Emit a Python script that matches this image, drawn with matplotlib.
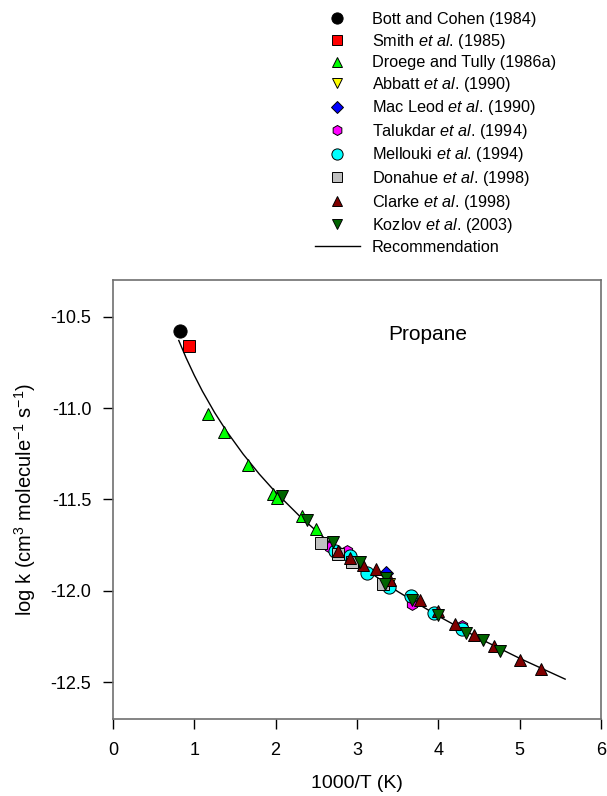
import matplotlib
matplotlib.use("Agg")
import matplotlib.pyplot as plt
from matplotlib.lines import Line2D

plt.rcParams["font.family"] = ["Liberation Sans", "DejaVu Sans"]
plt.rcParams["mathtext.fontset"] = "custom"
plt.rcParams["mathtext.rm"] = "Liberation Sans"
plt.rcParams["mathtext.it"] = "Liberation Sans:italic"

# data (x = 1000/T, y = log k)
bott_x, bott_y = [0.82], [-10.58]
smith_x, smith_y = [0.94], [-10.66]
droege_x = [1.17, 1.37, 1.66, 1.97, 2.02, 2.33, 2.50]
droege_y = [-11.03, -11.13, -11.31, -11.47, -11.49, -11.59, -11.66]
abbatt_x, abbatt_y = [3.39], [-11.96]
macleod_x, macleod_y = [3.36], [-11.90]
taluk_x = [2.67, 2.88, 3.68, 4.29]
taluk_y = [-11.76, -11.78, -12.07, -12.19]
mell_x = [2.73, 2.91, 3.12, 3.40, 3.66, 3.95, 4.29]
mell_y = [-11.78, -11.81, -11.90, -11.98, -12.03, -12.12, -12.21]
donah_x = [2.56, 2.77, 2.94, 3.32]
donah_y = [-11.74, -11.80, -11.84, -11.96]
clarke_x = [2.77, 2.92, 3.08, 3.23, 3.41, 3.78, 4.00, 4.20, 4.44, 4.69, 5.00, 5.26]
clarke_y = [-11.78, -11.82, -11.86, -11.88, -11.94, -12.05, -12.11, -12.18,
            -12.24, -12.30, -12.38, -12.43]
kozlov_x = [2.08, 2.39, 2.70, 3.04, 3.36, 3.35, 3.68, 4.00, 4.34, 4.55, 4.76]
kozlov_y = [-11.48, -11.61, -11.73, -11.84, -11.93, -11.96, -12.05, -12.13,
            -12.23, -12.27, -12.33]

# recommendation curve, points
rec_x = [0.81, 0.9, 1.0, 1.1, 1.25, 1.4, 1.6, 1.8, 2.0, 2.3, 2.6, 3.0, 3.5,
         4.0, 4.5, 5.0, 5.56]
rec_y = [-10.630, -10.725, -10.820, -10.907, -11.024, -11.128, -11.251,
         -11.361, -11.460, -11.593, -11.711, -11.850, -12.003, -12.138,
         -12.259, -12.369, -12.483]

series = [
    (bott_x, bott_y, "o", "#000000", 9.5, "Bott and Cohen (1984)"),
    (smith_x, smith_y, "s", "#ff0000", 8, r"Smith $\it{et\ al}$. (1985)"),
    (droege_x, droege_y, "^", "#00ff00", 9, "Droege and Tully (1986a)"),
    (abbatt_x, abbatt_y, "v", "#ffff00", 9, r"Abbatt $\it{et\ al}$. (1990)"),
    (macleod_x, macleod_y, "D", "#0000ff", 7.5, r"Mac Leod $\it{et\ al}$. (1990)"),
    (taluk_x, taluk_y, "h", "#ff00ff", 8.5, r"Talukdar $\it{et\ al}$. (1994)"),
    (mell_x, mell_y, "o", "#00ffff", 9.5, r"Mellouki $\it{et\ al}$. (1994)"),
    (donah_x, donah_y, "s", "#c0c0c0", 8, r"Donahue $\it{et\ al}$. (1998)"),
    (clarke_x, clarke_y, "^", "#800000", 9, r"Clarke $\it{et\ al}$. (1998)"),
    (kozlov_x, kozlov_y, "v", "#006400", 9, r"Kozlov $\it{et\ al}$. (2003)"),
]

fig = plt.figure(figsize=(6.07, 7.96), dpi=100)
ax = fig.add_axes([0.186, 0.097, 0.804, 0.551])

ax.plot(rec_x, rec_y, color="black", lw=1.0, zorder=2)

handles = []
for i, (x, y, m, c, ms, lab) in enumerate(series):
    ax.plot(x, y, ls="none", marker=m, ms=ms, mfc=c, mec="black", mew=0.7,
            zorder=3 + i)
    handles.append(Line2D([], [], ls="none", marker=m, ms=ms * 0.85, mfc=c,
                          mec="black", mew=0.7, label=lab))
handles.append(Line2D([], [], color="black", lw=1.0, label="Recommendation"))

ax.set_xlim(0, 6)
ax.set_ylim(-12.7, -10.3)
ax.set_xticks(range(0, 7))
ax.set_yticks([-10.5, -11.0, -11.5, -12.0, -12.5])
ax.set_yticklabels(["-10.5", "-11.0", "-11.5", "-12.0", "-12.5"])
ax.tick_params(direction="out", length=7, width=1, labelsize=13)
ax.tick_params(axis="x", pad=9.5)
ax.tick_params(axis="y", pad=8.5)
for s in ax.spines.values():
    s.set_color("#707070")
    s.set_linewidth(1.2)

ax.set_xlabel("1000/T (K)", fontsize=14, labelpad=12)
ax.set_ylabel(r"log k (cm$^3$ molecule$^{-1}$ s$^{-1}$)", fontsize=14.5, labelpad=9)
ax.text(3.385, -10.625, "Propane", fontsize=15, va="baseline")

fig.legend(handles=handles, loc="upper left", bbox_to_anchor=(0.505, 0.995),
           frameon=False, fontsize=11.7, handlelength=2.8, handletextpad=0.7,
           labelspacing=0.28, borderpad=0)

fig.savefig("out.png", dpi=100)
